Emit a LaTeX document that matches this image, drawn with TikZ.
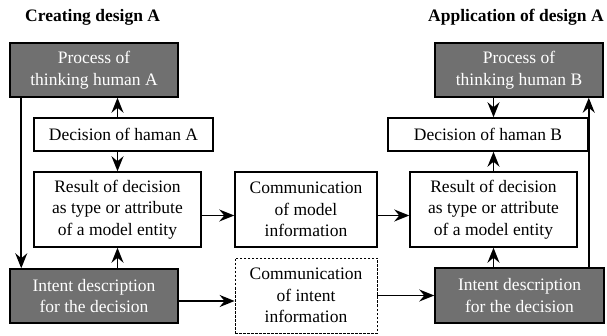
\documentclass[tikz,border=0pt]{standalone}
\usepackage{fontspec}
\setmainfont{Liberation Serif}
\newfontfamily\tnr{Liberation Serif}
\usetikzlibrary{arrows.meta}
\begin{document}
\begin{tikzpicture}[x=1pt,y=-1pt,
  box/.style={draw=black,line width=1.5pt,fill=white,align=center,inner sep=0pt,
    font=\tnr\fontsize{17.5}{21.5}\selectfont},
  darkbox/.style={box,fill=black!56,text=white},
  dashbox/.style={box,line width=0.8pt,dash pattern=on 2.5pt off 1.5pt},
  arr/.style={line width=1.6pt,-{Stealth[length=15pt,width=12pt,inset=5pt]}},
  title/.style={font=\tnr\fontsize{17.5}{20}\selectfont\bfseries,anchor=west,inner sep=0pt}]
\useasboundingbox (0,0) rectangle (607,336);
\node[title] (tA) at (25,17) {Creating design A};
\node[title] (tB) at (428,17) {Application of design A};
\node[darkbox,minimum width=168pt,minimum height=54pt] (ProcA) at (94,70) {Process of\\thinking human A};
\node[box,minimum width=179pt,minimum height=33pt] (DecA) at (123.5,134.5) {Decision of haman A};
\node[box,minimum width=167pt,minimum height=75pt] (ResA) at (117.5,209.5) {Result of decision\\as type or attribute\\of a model entity};
\node[darkbox,minimum width=168pt,minimum height=54pt] (IntA) at (94,296) {Intent description\\for the decision};
\node[box,minimum width=142pt,minimum height=75pt] (CommM) at (306,209.5) {Communication\\of model\\information};
\node[dashbox,minimum width=142pt,minimum height=75pt] (CommI) at (306,295.5) {Communication\\of intent\\information};
\node[box,minimum width=167pt,minimum height=75pt] (ResB) at (493.5,209.5) {Result of decision\\as type or attribute\\of a model entity};
\node[darkbox,minimum width=169pt,minimum height=55pt] (IntB) at (519.5,295.5) {Intent description\\for the decision};
\node[darkbox,minimum width=168pt,minimum height=54pt] (ProcB) at (519,70) {Process of\\thinking human B};
\node[box,minimum width=200pt,minimum height=33pt] (DecB) at (488,134.5) {Decision of haman B};
\coordinate (iaE) at ([yshift=-5pt]IntA.east);
\coordinate (ibL) at ([xshift=-16pt]IntB.north east);
% left column
\draw[arr] (DecA.north -| ResA.north) -- (ProcA.south -| ResA.north);
\draw[arr] (DecA.south -| ResA.north) -- (ResA.north);
\draw[arr] (IntA.north -| ResA.south) -- (ResA.south);
\draw[arr] ([xshift=12pt]ProcA.south west) -- ([xshift=12pt]IntA.north west);
% horizontal
\draw[arr] ([yshift=-6pt]ResA.east) -- ([yshift=-6pt]CommM.west);
\draw[arr] ([yshift=-6pt]CommM.east) -- ([yshift=-6pt]ResB.west);
\draw[arr] (iaE) -- (iaE -| CommI.west);
\draw[arr] (CommI.east) -- (IntB.west);
% right column
\draw[arr] (ProcB.south -| ResB.north) -- (DecB.north -| ResB.north);
\draw[arr] (ResB.north) -- (DecB.south -| ResB.north);
\draw[arr] (IntB.north -| ResB.south) -- (ResB.south);
\draw[arr] (ibL) -- (ibL |- ProcB.south);
\end{tikzpicture}
\end{document}
